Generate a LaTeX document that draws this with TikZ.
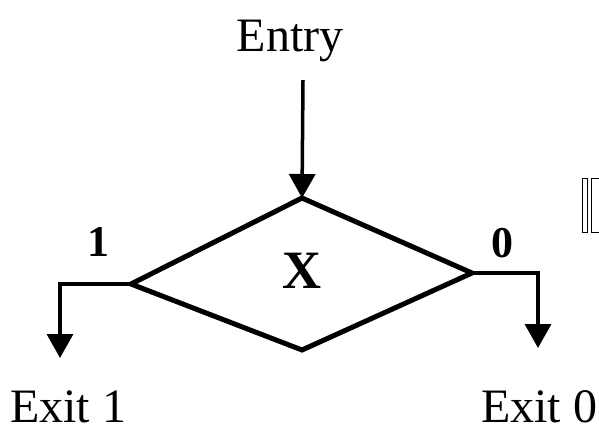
\documentclass[tikz,border=0pt]{standalone}
\usepackage{fontspec}
\setmainfont{Liberation Serif}
\usetikzlibrary{arrows.meta}
\begin{document}
\begin{tikzpicture}[x=1pt,y=-1pt,
  shape line/.style={line width=5pt,line join=miter},
  flow/.style={line width=3.5pt,-{Triangle[length=24pt,width=26pt]}},
  bigtext/.style={inner sep=0pt,anchor=base,font=\fontsize{48}{48}\selectfont},
  branchlabel/.style={inner sep=0pt,anchor=base,font=\fontsize{44}{44}\selectfont\bfseries},
  glyphbox/.style={line width=1pt}]
\useasboundingbox (0,0) rectangle (599,429);
% diamond corners
\coordinate (dt) at (302,198);
\coordinate (dr) at (472,273);
\coordinate (db) at (302,350);
\coordinate (dl) at (131,284);
\draw[shape line] (dt) -- (dr) -- (db) -- (dl) -- cycle;
\node[inner sep=0pt,anchor=base,font=\fontsize{54}{54}\selectfont\bfseries] (x) at (302,288) {X};
% texts
\node[bigtext] (entry) at (290,51.7) {Entry};
\node[bigtext] (exit1) at (68,422) {Exit 1};
\node[bigtext] (exit0) at (539,422) {Exit 0};
\node[branchlabel] (one) at (98,256) {1};
\node[branchlabel] (zero) at (502,257) {0};
% connector ends
\coordinate (es) at (303,80);
\coordinate (lt) at (60,358);
\coordinate (rt) at (538,348);
\draw[flow] (es) -- (dt);
\draw[flow] (dl) -- (dl -| lt) -- (lt);
\draw[flow] (dr) -- (dr -| rt) -- (rt);
% stray glyph box at right edge
\draw[glyphbox] (582.5,178.5) rectangle (587,232);
\draw[glyphbox] (605,232) -- (591.5,232) -- (591.5,178.5) -- (605,178.5);
\end{tikzpicture}
\end{document}
